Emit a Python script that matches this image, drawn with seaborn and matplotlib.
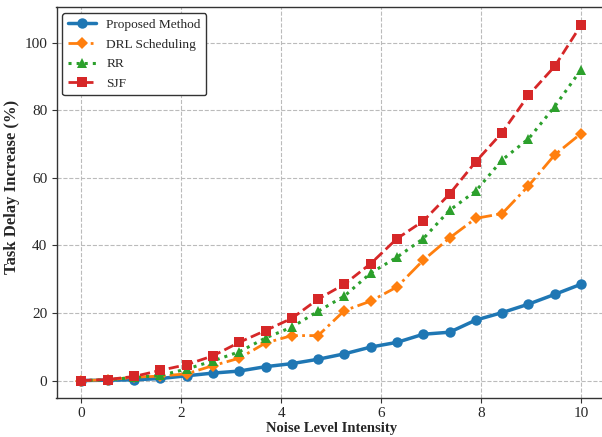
import numpy as np
import pandas as pd
import matplotlib
matplotlib.use("Agg")
import matplotlib.pyplot as plt
import seaborn as sns

noise = np.linspace(0, 10, 20)
proposed = [0.0, 0.1, 0.2, 0.6, 1.4, 2.2, 2.8, 4.1, 5.0, 6.3, 7.9, 9.9, 11.3, 13.7, 14.3, 17.9, 20.1, 22.6, 25.5, 28.5]
drl = [0.0, 0.2, 1.0, 1.3, 2.0, 4.4, 6.6, 11.1, 13.3, 13.3, 20.7, 23.5, 27.7, 35.6, 42.2, 48.0, 49.4, 57.6, 66.8, 73.1]
rr = [0.0, 0.2, 0.9, 1.5, 3.4, 5.8, 8.5, 12.6, 15.8, 20.5, 25.0, 31.8, 36.5, 42.0, 50.4, 56.1, 65.3, 71.5, 81.1, 92.0]
sjf = [0.0, 0.3, 1.2, 3.0, 4.7, 7.3, 11.3, 14.8, 18.4, 24.1, 28.5, 34.6, 42.0, 47.2, 55.2, 64.8, 73.4, 84.4, 93.0, 105.2]

series = ["Proposed Method", "DRL Scheduling", "RR", "SJF"]
values = [proposed, drl, rr, sjf]

df = pd.concat([pd.DataFrame({"Noise": noise, "Delay": v, "Method": n}) for n, v in zip(series, values)],
               ignore_index=True)

sns.set_theme(style="whitegrid")
plt.rcParams['font.family'] = ['Liberation Serif', 'DejaVu Serif']

fig = plt.figure(figsize=(6.02, 4.37), dpi=100)
ax = fig.add_axes([56.5 / 602, (437 - 398.3) / 437, (606 - 56.5) / 602, (398.3 - 7.3) / 437])

styles = {
    "Proposed Method": dict(color="#1f77b4", linestyle="-", marker="o", lw=2.5, ms=7.5),
    "DRL Scheduling": dict(color="#ff7f0e", linestyle="-.", marker="D", lw=2.0, ms=6.5),
    "RR": dict(color="#2ca02c", linestyle=":", marker="^", lw=2.2, ms=7.5),
    "SJF": dict(color="#d62728", linestyle="--", marker="s", lw=2.0, ms=7),
}

for name in series:
    s = styles[name]
    sub = df[df["Method"] == name]
    sns.lineplot(data=sub, x="Noise", y="Delay", ax=ax, color=s["color"], linestyle=s["linestyle"],
                 marker=s["marker"], linewidth=s["lw"], markersize=s["ms"], markeredgewidth=0,
                 label=name)

ax.set_xlim(-0.5, 10.5)
ax.set_ylim(-5.26, 110.46)
ax.set_xticks([0, 2, 4, 6, 8, 10])
ax.set_yticks([0, 20, 40, 60, 80, 100])
ax.set_xlabel("Noise Level Intensity", fontsize=10.5, fontweight="bold", labelpad=1)
ax.set_ylabel("Task Delay Increase (%)", fontsize=12, fontweight="bold")
ax.yaxis.set_label_coords(-0.066, 0.54)
ax.tick_params(axis="both", labelsize=11, length=3.5, width=0.8, color="#333333", bottom=True, left=True, pad=3)
ax.grid(True, linestyle="--", color="#bbbbbb", linewidth=0.8)
for sp in ax.spines.values():
    sp.set_color("#333333")
    sp.set_linewidth(1.0)
ax.set_facecolor("white")

leg = ax.legend(loc="upper left", fontsize=9.6, frameon=True, fancybox=True, framealpha=1,
                edgecolor="#333333", borderpad=0.4, handlelength=2.1, labelspacing=0.55,
                borderaxespad=0.45)
leg.get_frame().set_linewidth(1.0)

fig.savefig("out.png", dpi=100)
